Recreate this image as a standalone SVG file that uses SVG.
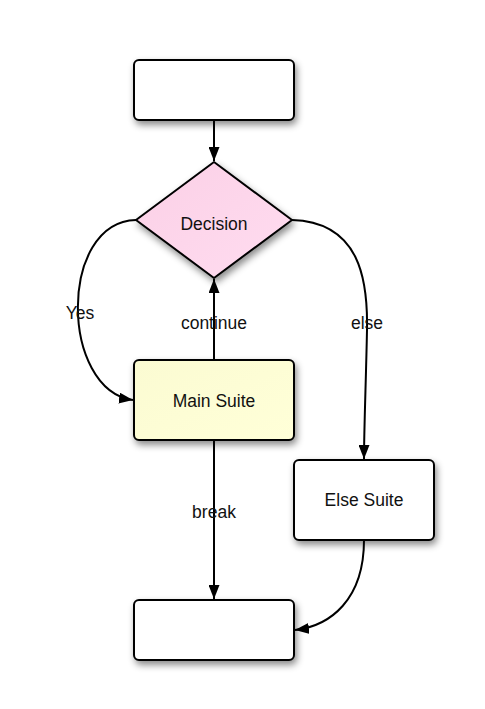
<svg xmlns="http://www.w3.org/2000/svg" width="485" height="709" viewBox="0 0 485 709">
<style>
.n{stroke:#000;stroke-width:2;filter:url(#sh)}
.t{font-family:"Liberation Sans",Arial,sans-serif;font-size:17.5px;fill:#111;text-anchor:middle}
.c{fill:none;stroke:#000;stroke-width:2}
</style>
<defs>
<filter id="sh" x="-20%" y="-20%" width="150%" height="160%">
<feDropShadow dx="2" dy="4" stdDeviation="3.5" flood-color="#000" flood-opacity="0.45"/>
</filter>
<linearGradient id="gp" x1="0" y1="0" x2="1" y2="1">
<stop offset="0" stop-color="#fbd0e6"/>
<stop offset="1" stop-color="#ffdcf0"/>
</linearGradient>
<linearGradient id="gy" x1="0" y1="0" x2="1" y2="1">
<stop offset="0" stop-color="#fbfbd2"/>
<stop offset="1" stop-color="#ffffd8"/>
</linearGradient>
<marker id="ar" viewBox="0 0 14 11" refX="14" refY="5.5" markerWidth="14" markerHeight="11" markerUnits="userSpaceOnUse" orient="auto">
<path d="M0,0 L14,5.5 L0,11 Z" fill="#000"/>
</marker>
</defs>
<g id="connectors">
<path class="c" d="M214,120 L214,161" marker-end="url(#ar)"/>
<path class="c" d="M136,220 C58,222 60,390 133,400" marker-end="url(#ar)"/>
<path class="c" d="M214,360 L214,279" marker-end="url(#ar)"/>
<path class="c" d="M292,220 C360,222 368,280 367,330 C366,380 364,430 364,459" marker-end="url(#ar)"/>
<path class="c" d="M214,440 L214,599" marker-end="url(#ar)"/>
<path class="c" d="M364,540 C364,600 330,626 295,630" marker-end="url(#ar)"/>
<text class="t" x="80" y="319">Yes</text>
<text class="t" x="214" y="329">continue</text>
<text class="t" x="367" y="329">else</text>
<text class="t" x="214" y="518">break</text>
</g>
<g id="start">
<rect class="n" x="134" y="60" width="160" height="60" rx="5" fill="#fff"/>
</g>
<g id="decision">
<path class="n" d="M214,162 L292,220 L214,278 L136,220 Z" stroke-linejoin="round" fill="url(#gp)"/>
<text class="t" x="214" y="230">Decision</text>
</g>
<g id="main-suite">
<rect class="n" x="134" y="360" width="160" height="80" rx="5" fill="url(#gy)"/>
<text class="t" x="214" y="407">Main Suite</text>
</g>
<g id="else-suite">
<rect class="n" x="294" y="460" width="140" height="80" rx="5" fill="#fff"/>
<text class="t" x="364" y="506">Else Suite</text>
</g>
<g id="end">
<rect class="n" x="134" y="600" width="160" height="60" rx="5" fill="#fff"/>
</g>
</svg>
